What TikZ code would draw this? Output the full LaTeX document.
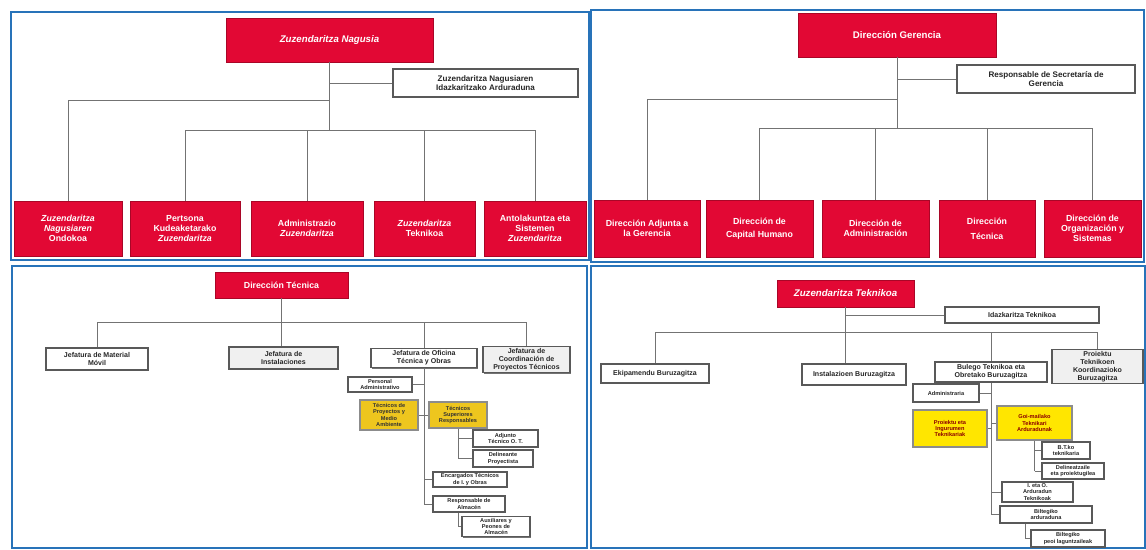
\documentclass[tikz,border=0pt]{standalone}
\usepackage{fontspec}
\setmainfont{Liberation Sans}
\usetikzlibrary{shadows}
\definecolor{orgred}{RGB}{226,8,52}
\definecolor{orgblue}{RGB}{40,115,185}
\definecolor{orgyellow}{RGB}{255,230,0}
\definecolor{orggold}{RGB}{238,198,30}
\begin{document}
\begin{tikzpicture}[x=0.02cm,y=-0.02cm,
  sz/.style 2 args={minimum width=#1*0.02cm,minimum height=#2*0.02cm},
  box/.style={rectangle,align=center,inner sep=1pt,
    drop shadow={shadow xshift=0.6pt,shadow yshift=-0.6pt,fill=black,opacity=0.55}},
  redbox/.style={box,fill=orgred,draw=orgred!75!black,text=white},
  whitebox/.style={box,fill=white,draw=black!65,line width=0.8pt,text=black!85},
  graybox/.style={whitebox,fill=gray!12},
  yellowbox/.style={box,fill=orgyellow,draw=black!45,line width=0.6pt,text=red!55!black},
  goldbox/.style={box,fill=orggold,draw=black!45,line width=0.6pt,text=black!80},
  bigtxt/.style={font=\bfseries\fontsize{5.5}{6.2}\selectfont},
  midtxt/.style={font=\bfseries\fontsize{5}{5.6}\selectfont},
  smalltxt/.style={font=\bfseries\fontsize{4}{4.5}\selectfont},
  tinytxt/.style={font=\bfseries\fontsize{3.2}{3.6}\selectfont},
  frame/.style={draw=orgblue,line width=1.2pt},
  link/.style={draw=black!55,line width=0.5pt}]

\useasboundingbox (0,0) rectangle (1146,549);

% panel frames
\draw[frame] (11,12) rectangle (589,260);
\draw[frame] (591,10) rectangle (1144,262);
\draw[frame] (12,266) rectangle (587,548);
\draw[frame] (591,266) rectangle (1145,548);

% top left
\draw (329.5,40) node(ZN)[redbox,bigtxt,sz={207}{44}]{\itshape Zuzendaritza Nagusia};
\draw (485.5,83) node(ZNI)[whitebox,midtxt,font=\bfseries\fontsize{4.6}{5.2}\selectfont,sz={185}{28}]{Zuzendaritza Nagusiaren\\Idazkaritzako Arduraduna};
\draw (68,228.5) node(ZNO)[redbox,midtxt,sz={108}{55}]{\itshape Zuzendaritza\\\itshape Nagusiaren\\Ondokoa};
\draw (185,228.5) node(ZPK)[redbox,midtxt,sz={110}{55}]{Pertsona\\Kudeaketarako\\\itshape Zuzendaritza};
\draw (307,228.5) node(ZAD)[redbox,midtxt,sz={112}{55}]{Administrazio\\\itshape Zuzendaritza};
\draw (424.5,228.5) node(ZTE)[redbox,midtxt,sz={101}{55}]{\itshape Zuzendaritza\\Teknikoa};
\draw (535,228.5) node(ZAS)[redbox,midtxt,sz={102}{55}]{Antolakuntza eta\\Sistemen\\\itshape Zuzendaritza};

\coordinate (tlA) at (0,100);
\coordinate (tlB) at (0,130);
\draw[link] (ZN.south) |- (ZNI.west);
\draw[link] (ZN.south) -- (ZN.south |- tlB);
\draw[link] (ZN.south |- tlA) -| (ZNO.north);
\draw[link] (tlB -| ZPK.north) -- (tlB -| ZAS.north);
\foreach \n in {ZPK,ZAD,ZTE,ZAS}
  \draw[link] (tlB -| \n.north) -- (\n.north);

% top right
\draw (897,35) node(DG)[redbox,bigtxt,sz={198}{44}]{Dirección Gerencia};
\draw (1046,79) node(RSG)[whitebox,font=\bfseries\fontsize{4.6}{5.2}\selectfont,sz={178}{28}]{Responsable de Secretaría de\\Gerencia};
\draw (647,228.5) node(DAG)[redbox,midtxt,sz={106}{57}]{Dirección Adjunta a\\la Gerencia};
\draw (759.5,228.5) node(DCH)[redbox,midtxt,sz={107}{57}]{Dirección de\\[2pt]Capital Humano};
\draw (875.5,228.5) node(DAD)[redbox,midtxt,sz={107}{57}]{Dirección de\\Administración};
\draw (987,228.5) node(DTE)[redbox,midtxt,sz={96}{57}]{Dirección\\[3pt]Técnica};
\draw (1092.5,228.5) node(DOS)[redbox,midtxt,sz={97}{57}]{Dirección de\\Organización y\\Sistemas};

\coordinate (trA) at (0,99);
\coordinate (trB) at (0,128);
\draw[link] (DG.south) |- (RSG.west);
\draw[link] (DG.south) -- (DG.south |- trB);
\draw[link] (DG.south |- trA) -| (DAG.north);
\draw[link] (trB -| DCH.north) -- (trB -| DOS.north);
\foreach \n in {DCH,DAD,DTE,DOS}
  \draw[link] (trB -| \n.north) -- (\n.north);

% bottom left
\draw (281.5,285) node(DT)[redbox,midtxt,sz={133}{26}]{Dirección Técnica};
\draw (97,359) node(JMM)[whitebox,smalltxt,sz={102}{22}]{Jefatura de Material\\Móvil};
\draw (283.5,358) node(JIN)[graybox,smalltxt,sz={109}{22}]{Jefatura de\\Instalaciones};
\draw (424,358) node(JOT)[whitebox,smalltxt,sz={106}{19}]{Jefatura de Oficina\\Técnica y Obras};
\draw (526.5,359.5) node(JCP)[graybox,smalltxt,sz={87}{25}]{Jefatura de\\Coordinación de\\Proyectos Técnicos};

\draw (380,384.5) node(PAD)[whitebox,tinytxt,sz={64}{15}]{Personal\\Administrativo};
\draw (389,415) node(TPM)[goldbox,tinytxt,sz={58}{30}]{Técnicos de\\Proyectos y\\Medio\\Ambiente};
\draw (458,415) node(TSR)[goldbox,tinytxt,sz={58}{26}]{Técnicos\\Superiores\\Responsables};
\draw (505.5,438.5) node(ATO)[whitebox,tinytxt,sz={65}{17}]{Adjunto\\Técnico O. T.};
\draw (503,458.5) node(DPR)[whitebox,tinytxt,sz={60}{17}]{Delineante\\Proyectista};
\draw (470,479.5) node(ETO)[whitebox,tinytxt,sz={74}{15}]{Encargados Técnicos\\de I. y Obras};
\draw (469,504) node(RAL)[whitebox,tinytxt,sz={72}{16}]{Responsable de\\Almacén};
\draw (496,526.5) node(APA)[whitebox,tinytxt,sz={68}{17}]{Auxiliares y\\Peones de\\Almacén};

\coordinate (blA) at (0,322);
\draw[link] (DT.south) -- (DT.south |- JIN.north);
\draw[link] (blA -| JMM.north) -- (blA -| JCP.north);
\foreach \n in {JMM,JOT,JCP}
  \draw[link] (blA -| \n.north) -- (\n.north);
\draw[link] (JOT.south) -- (JOT.south |- RAL.west);
\foreach \n in {PAD,TPM}
  \draw[link] (JOT.south |- \n.east) -- (\n.east);
\foreach \n in {TSR,ETO,RAL}
  \draw[link] (JOT.south |- \n.west) -- (\n.west);
\draw[link] (TSR.south) -- (TSR.south |- DPR.west);
\foreach \n in {ATO,DPR}
  \draw[link] (TSR.south |- \n.west) -- (\n.west);
\draw[link] (RAL.south -| TSR.south) |- (APA.west);

% bottom right
\draw (845.5,293.5) node(ZTK)[redbox,bigtxt,sz={137}{27}]{\itshape Zuzendaritza Teknikoa};
\draw (1022,315) node(IDT)[whitebox,smalltxt,sz={154}{16}]{Idazkaritza Teknikoa};
\draw (655,373.5) node(MMB)[whitebox,smalltxt,sz={108}{19}]{Ekipamendu Buruzagitza};
\draw (854,374.5) node(IBZ)[whitebox,smalltxt,sz={104}{21}]{Instalazioen Buruzagitza};
\draw (991,372) node(BTO)[whitebox,smalltxt,sz={112}{20}]{Bulego Teknikoa eta\\Obretako Buruzagitza};
\draw (1097.5,366.5) node(PTK)[graybox,smalltxt,sz={91}{31}]{Proiektu\\Teknikoen\\Koordinazioko\\Buruzagitza};

\draw (946,393) node(ADM)[whitebox,tinytxt,sz={66}{18}]{Administraria};
\draw (950,428.5) node(PIT)[yellowbox,tinytxt,sz={74}{37}]{Proiektu eta\\Ingurumen\\Teknikariak};
\draw (1034.5,423) node(GTA)[yellowbox,tinytxt,sz={75}{34}]{Goi-mailako\\Teknikari\\Arduradunak};
\draw (1066,450.5) node(BTT)[whitebox,tinytxt,sz={48}{17}]{B.T.ko\\teknikaria};
\draw (1073,471) node(DEP)[whitebox,tinytxt,sz={62}{16}]{Delineatzaile\\eta proiektugilea};
\draw (1037.5,492) node(IOA)[whitebox,tinytxt,sz={71}{18}]{I. eta O.\\Arduradun\\Teknikoak};
\draw (1046,514.5) node(BAR)[whitebox,tinytxt,sz={92}{17}]{Biltegiko\\arduraduna};
\draw (1068,538.5) node(BPL)[whitebox,tinytxt,sz={74}{17}]{Biltegiko\\peoi laguntzaileak};

\coordinate (brA) at (0,332);
\draw[link] (ZTK.south) -- (ZTK.south |- IBZ.north);
\draw[link] (ZTK.south |- IDT.west) -- (IDT.west);
\draw[link] (brA -| MMB.north) -- (brA -| PTK.north);
\foreach \n in {MMB,BTO,PTK}
  \draw[link] (brA -| \n.north) -- (\n.north);
\draw[link] (BTO.south) -- (BTO.south |- BAR.west);
\foreach \n in {ADM,PIT}
  \draw[link] (BTO.south |- \n.east) -- (\n.east);
\foreach \n in {GTA,IOA,BAR}
  \draw[link] (BTO.south |- \n.west) -- (\n.west);
\draw[link] (GTA.south) -- (GTA.south |- DEP.west);
\foreach \n in {BTT,DEP}
  \draw[link] (GTA.south |- \n.west) -- (\n.west);
\draw[link] ([xshift=-0.42cm]BAR.south) |- (BPL.west);

\end{tikzpicture}
\end{document}
